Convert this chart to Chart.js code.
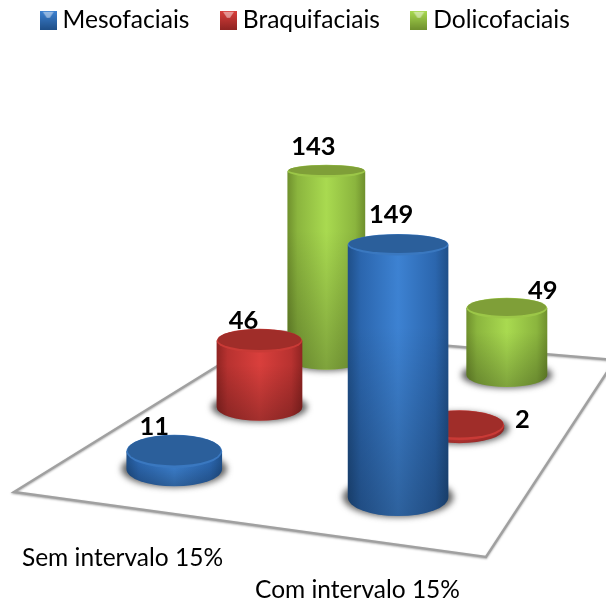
<!DOCTYPE html>
<html>
<head>
<meta charset="utf-8">
<script src="https://cdn.jsdelivr.net/npm/chart.js@4"></script>
<style>
html, body { margin: 0; padding: 0; background: #fff; }
canvas { display: block; }
</style>
</head>
<body>
<canvas id="myChart" width="606" height="601"></canvas>
<script>
const categories = ['Sem intervalo 15%', 'Com intervalo 15%'];
const mesofaciais = [11, 149];
const braquifaciais = [46, 2];
const dolicofaciais = [143, 49];

// nudges for the value labels, as they were hand placed in the original
const labelNudges = [
    [[-20, -25], [-7, -30]],
    [[-16, -20], [63, -5]],
    [[-13, -24], [36, -17]]
];

const palette = [
    { edge: '#1f4f88', side: '#2b66ae', mid: '#3d82d2', top: '#2b5f9b', rim: '#3a78c0' },
    { edge: '#8f2422', side: '#b83230', mid: '#d93f3c', top: '#a02d29', rim: '#c93a36' },
    { edge: '#6f902d', side: '#8bb53e', mid: '#a9da50', top: '#7f9f38', rim: '#9cc748' }
];

// the floor corners on the page: front left, front right, back right, back left
const floorCorners = [[14, 492], [486, 557], [615, 360], [274, 331]];

function makeProjection(c) {
    const sx = c[0][0] - c[1][0] + c[2][0] - c[3][0];
    const sy = c[0][1] - c[1][1] + c[2][1] - c[3][1];
    const dx1 = c[1][0] - c[2][0], dx2 = c[3][0] - c[2][0];
    const dy1 = c[1][1] - c[2][1], dy2 = c[3][1] - c[2][1];
    const den = dx1 * dy2 - dx2 * dy1;
    const g = (sx * dy2 - dx2 * sy) / den;
    const h = (dx1 * sy - sx * dy1) / den;
    const a = c[1][0] - c[0][0] + g * c[1][0];
    const b = c[3][0] - c[0][0] + h * c[3][0];
    const d = c[1][1] - c[0][1] + g * c[1][1];
    const e = c[3][1] - c[0][1] + h * c[3][1];
    return (u, v) => {
        const w = g * u + h * v + 1;
        return { x: (a * u + b * v + c[0][0]) / w, y: (d * u + e * v + c[0][1]) / w, w };
    };
}
const project = makeProjection(floorCorners);

function tilt(y) {
    return 0.12 + (y - 100) * 0.00065;
}

function placeCylinder(chart, datasetIndex, i) {
    const xScale = chart.scales.x;
    const yScale = chart.scales.y;
    const area = chart.chartArea;
    const value = chart.data.datasets[datasetIndex].data[i];
    const u = (xScale.getPixelForValue(i) - area.left) / (area.width * 0.99);
    const v = (datasetIndex + 0.5) / chart.data.datasets.length;
    const p = project(u, v);
    const rx = 49.5 / Math.pow(p.w, 0.85);
    const share = (yScale.getPixelForValue(0) - yScale.getPixelForValue(value)) / area.height;
    const topY = p.y - share * 5.05 * rx;
    return { x: p.x, baseY: p.y, topY, rx, baseRy: rx * tilt(p.y), topRy: rx * tilt(topY) };
}

function drawCylinder(ctx, c, col) {
    // soft shadow on the floor
    ctx.save();
    ctx.filter = 'blur(3px)';
    ctx.fillStyle = 'rgba(60,60,60,0.8)';
    ctx.beginPath();
    ctx.ellipse(c.x, c.baseY, c.rx + 5, c.baseRy + 1, 0, 0, Math.PI * 2);
    ctx.fill();
    ctx.restore();

    // side
    const side = ctx.createLinearGradient(c.x - c.rx, 0, c.x + c.rx, 0);
    side.addColorStop(0, col.edge);
    side.addColorStop(0.13, col.side);
    side.addColorStop(0.5, col.mid);
    side.addColorStop(0.87, col.side);
    side.addColorStop(1, col.edge);
    ctx.save();
    ctx.beginPath();
    ctx.moveTo(c.x - c.rx, c.topY);
    ctx.lineTo(c.x - c.rx, c.baseY);
    ctx.ellipse(c.x, c.baseY, c.rx, c.baseRy, 0, Math.PI, 0, true);
    ctx.lineTo(c.x + c.rx, c.topY);
    ctx.closePath();
    ctx.fillStyle = side;
    ctx.fill();
    ctx.clip();
    const fade = ctx.createLinearGradient(0, c.topY, 0, c.baseY + c.baseRy);
    fade.addColorStop(0, 'rgba(0,0,0,0)');
    fade.addColorStop(0.3, 'rgba(0,0,0,0)');
    fade.addColorStop(1, 'rgba(0,0,0,0.25)');
    ctx.fillStyle = fade;
    ctx.fillRect(c.x - c.rx, c.topY, c.rx * 2, c.baseY + c.baseRy - c.topY);
    ctx.restore();

    // top with a small bevel along its front
    ctx.fillStyle = col.rim;
    ctx.beginPath();
    ctx.ellipse(c.x, c.topY, c.rx, c.topRy, 0, 0, Math.PI * 2);
    ctx.fill();
    ctx.fillStyle = col.top;
    ctx.beginPath();
    ctx.ellipse(c.x, c.topY - 1, c.rx - 1, c.topRy - 1.5, 0, 0, Math.PI * 2);
    ctx.fill();
}

const floorPlugin = {
    id: 'floor',
    afterLayout(chart) {
        // the wide label padding pushes the legend down, lift it back to the top
        chart.legend.top -= 29;
        chart.legend.bottom -= 29;
        chart.legend.left += 5;
        chart.legend.right += 5;
    },
    beforeDatasetsDraw(chart) {
        const ctx = chart.ctx;
        ctx.save();
        ctx.beginPath();
        floorCorners.forEach((p, i) => i ? ctx.lineTo(p[0], p[1]) : ctx.moveTo(p[0], p[1]));
        ctx.closePath();
        ctx.shadowColor = 'rgba(0,0,0,0.3)';
        ctx.shadowBlur = 2;
        ctx.shadowOffsetY = 1;
        ctx.strokeStyle = '#a0a0a0';
        ctx.lineWidth = 2.4;
        ctx.stroke();
        ctx.restore();
    }
};

const cylinderPlugin = {
    id: 'cylinders',
    beforeDatasetDraw(chart, args) {
        chart.data.datasets[args.index].data.forEach((value, i) => {
            drawCylinder(chart.ctx, placeCylinder(chart, args.index, i), palette[args.index]);
        });
        return false;
    },
    afterDatasetsDraw(chart) {
        const ctx = chart.ctx;
        ctx.save();
        ctx.font = 'bold 25.5px Lato';
        ctx.fillStyle = '#000';
        ctx.textAlign = 'center';
        ctx.textBaseline = 'middle';
        chart.data.datasets.forEach((dataset, d) => {
            dataset.data.forEach((value, i) => {
                const c = placeCylinder(chart, d, i);
                ctx.fillText(String(value), c.x + labelNudges[d][i][0], c.topY + labelNudges[d][i][1]);
            });
        });
        ctx.restore();
    }
};

function makeMarker(col) {
    const marker = document.createElement('canvas');
    marker.width = 17;
    marker.height = 19;
    const m = marker.getContext('2d');
    const g = m.createLinearGradient(0, 0, 0, 19);
    g.addColorStop(0, col.mid);
    g.addColorStop(1, col.edge);
    m.fillStyle = g;
    m.fillRect(0, 0, 17, 19);
    m.fillStyle = 'rgba(255,255,255,0.45)';
    m.beginPath();
    m.moveTo(3, 1);
    m.lineTo(14, 1);
    m.lineTo(10, 7);
    m.lineTo(7, 7);
    m.closePath();
    m.fill();
    return marker;
}

const ctx = document.getElementById('myChart').getContext('2d');
const chart = new Chart(ctx, {
    type: 'bar',
    data: {
        labels: categories,
        datasets: [
            { label: 'Mesofaciais', data: mesofaciais, backgroundColor: palette[0].mid },
            { label: 'Braquifaciais', data: braquifaciais, backgroundColor: palette[1].mid },
            { label: 'Dolicofaciais', data: dolicofaciais, backgroundColor: palette[2].mid }
        ]
    },
    options: {
        responsive: false,
        animation: false,
        plugins: {
            tooltip: { enabled: false },
            legend: {
                position: 'top',
                labels: {
                    usePointStyle: true,
                    pointStyleWidth: 4,
                    boxHeight: 17,
                    padding: 37,
                    color: '#000',
                    font: { family: 'Lato', size: 24.6 },
                    generateLabels: c => c.data.datasets.map((d, i) => ({
                        text: d.label,
                        datasetIndex: i,
                        pointStyle: makeMarker(palette[i]),
                        fontColor: '#000',
                        lineWidth: 0
                    }))
                }
            }
        },
        scales: {
            x: {
                grid: { display: false },
                border: { display: false },
                afterFit: scale => { scale.height -= 8; },
                ticks: {
                    color: '#000',
                    maxRotation: 0,
                    autoSkip: false,
                    labelOffset: 5,
                    font: { family: 'Lato', size: 24.5, lineHeight: 1.3 },
                    callback: function (value, index) {
                        const text = this.getLabelForValue(value);
                        return index === 0 ? [text, ''] : ['', text];
                    }
                }
            },
            y: {
                position: 'right',
                min: 0,
                max: 150,
                grid: { display: false },
                border: { display: false },
                ticks: { display: false },
                afterFit: scale => { scale.width = 136; }
            }
        }
    },
    plugins: [floorPlugin, cylinderPlugin]
});
</script>
</body>
</html>
